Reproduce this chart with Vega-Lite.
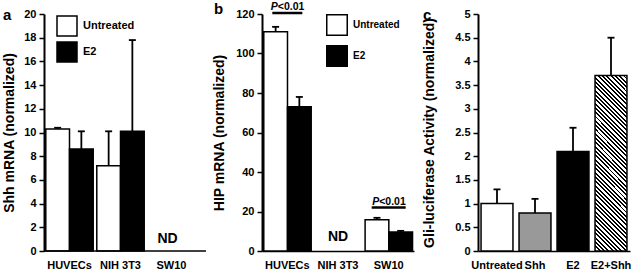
{
  "$schema": "https://vega.github.io/schema/vega-lite/v6.json",
  "background": "white",
  "padding": {"left": 2, "top": 2, "right": 0, "bottom": 0},
  "bounds": "flush",
  "spacing": 56,
  "resolve": {"scale": {"color": "independent"}, "legend": {"color": "independent"}},
  "config": {
    "view": {"stroke": null},
    "font": "Liberation Sans",
    "tick": {"opacity": 1},
    "axis": {
      "labelFont": "Liberation Sans", "labelFontWeight": "bold", "labelFontSize": 11, "labelColor": "#000",
      "titleFont": "Liberation Sans", "titleFontWeight": "bold", "titleFontSize": 14, "titleColor": "#000",
      "domainColor": "#000", "tickColor": "#000", "grid": false, "labelOverlap": false
    },
    "axisX": {"ticks": false, "tickSize": 0, "labelPadding": 8, "labelAngle": 0, "domainWidth": 1.5, "title": null},
    "axisY": {"tickSize": 5, "tickWidth": 1.5, "domainWidth": 2, "labelPadding": 3, "titleBaseline": "alphabetic", "labelOverlap": false},
    "title": {"font": "Liberation Sans", "fontSize": 15, "fontWeight": "bold", "anchor": "start", "frame": "group", "color": "#000", "offset": -15},
    "legend": {"labelFont": "Liberation Sans", "labelFontWeight": "bold", "labelColor": "#000"}
  },
  "datasets": {
    "a": [
      {"cell": "HUVECs", "treat": "Untreated", "v": 10.3, "err": 10.4},
      {"cell": "HUVECs", "treat": "E2", "v": 8.6, "err": 10.1},
      {"cell": "NIH 3T3", "treat": "Untreated", "v": 7.2, "err": 10.1},
      {"cell": "NIH 3T3", "treat": "E2", "v": 10.1, "err": 17.8}
    ],
    "b": [
      {"cell": "HUVECs", "treat": "Untreated", "v": 111, "err": 113.5},
      {"cell": "HUVECs", "treat": "E2", "v": 73, "err": 78},
      {"cell": "SW10", "treat": "Untreated", "v": 15.8, "err": 16.8},
      {"cell": "SW10", "treat": "E2", "v": 9.6, "err": 10.2}
    ],
    "c": [
      {"g": "Untreated", "v": 1.0, "err": 1.3},
      {"g": "Shh", "v": 0.8, "err": 1.1},
      {"g": "E2", "v": 2.1, "err": 2.6},
      {"g": "E2+Shh", "v": 3.7, "err": 4.5}
    ],
    "pb": [
      {"cell": "HUVECs", "y": 120.5},
      {"cell": "SW10", "y": 22}
    ]
  },
  "hconcat": [
    {
      "title": {"text": "a", "dx": -41},
      "width": 162,
      "height": 237,
      "layer": [
        {
          "data": {"name": "a"},
          "mark": {"type": "bar", "stroke": "#000", "strokeWidth": 1.5},
          "encoding": {
            "x": {"field": "cell", "type": "nominal", "scale": {"domain": ["HUVECs", "NIH 3T3", "SW10"], "range": [0, 153], "paddingInner": 0.07, "paddingOuter": 0.035}, "axis": {"domain": false, "title": null}},
            "xOffset": {"field": "treat", "type": "nominal", "scale": {"domain": ["Untreated", "E2"], "paddingInner": 0}},
            "y": {"field": "v", "type": "quantitative", "scale": {"domain": [0, 20], "nice": false}, "axis": {"tickCount": 10, "labelOverlap": false, "title": "Shh mRNA (normalized)", "titleX": -31}},
            "color": {"field": "treat", "type": "nominal", "scale": {"domain": ["Untreated", "E2"], "range": ["#ffffff", "#000000"]},
              "legend": {"orient": "none", "legendX": 12, "legendY": 1, "title": null, "symbolType": "square", "symbolSize": 400, "symbolStrokeColor": "#000", "symbolStrokeWidth": 1.5, "labelFontSize": 11, "rowPadding": 0, "labelOffset": 5, "padding": 0}}
          }
        },
        {
          "data": {"name": "a"},
          "mark": {"type": "rule", "strokeWidth": 1.8, "color": "#000"},
          "encoding": {
            "x": {"field": "cell", "type": "nominal"},
            "xOffset": {"field": "treat", "type": "nominal"},
            "y": {"field": "v", "type": "quantitative", "axis": {"tickCount": 10, "labelOverlap": false}}, "y2": {"field": "err"}}
        },
        {
          "data": {"name": "a"},
          "mark": {"type": "tick", "orient": "horizontal", "size": 7, "thickness": 1.8, "color": "#000", "opacity": 1},
          "encoding": {
            "x": {"field": "cell", "type": "nominal"},
            "xOffset": {"field": "treat", "type": "nominal"},
            "y": {"field": "err", "type": "quantitative", "axis": {"tickCount": 10, "labelOverlap": false}}}
        },
        {
          "data": {"values": [{"cell": "SW10", "label": "ND"}]},
          "mark": {"type": "text", "fontSize": 14, "fontWeight": "bold", "font": "Liberation Sans", "color": "#000", "baseline": "middle", "dy": -12, "dx": -4},
          "encoding": {"x": {"field": "cell", "type": "nominal"}, "y": {"datum": 0}, "text": {"field": "label"}}
        },
        {
          "data": {"values": [{"base": 0}]},
          "mark": {"type": "rule", "strokeWidth": 1.5, "color": "#000"},
          "encoding": {"y": {"field": "base", "type": "quantitative"}}
        }
      ]
    },
    {
      "title": {"text": "b", "dx": -48},
      "width": 160,
      "height": 237,
      "layer": [
        {
          "data": {"name": "b"},
          "mark": {"type": "bar", "stroke": "#000", "strokeWidth": 1.5},
          "encoding": {
            "x": {"field": "cell", "type": "nominal", "scale": {"domain": ["HUVECs", "NIH 3T3", "SW10"], "range": [0, 152], "paddingInner": 0.07, "paddingOuter": 0.035}, "axis": {"title": null}},
            "xOffset": {"field": "treat", "type": "nominal", "scale": {"domain": ["Untreated", "E2"], "paddingInner": 0}},
            "y": {"field": "v", "type": "quantitative", "scale": {"domain": [0, 120], "nice": false}, "axis": {"tickCount": 6, "labelOverlap": false, "title": "HIP mRNA (normalized)", "titleX": -38.5}},
            "color": {"field": "treat", "type": "nominal", "scale": {"domain": ["Untreated", "E2"], "range": ["#ffffff", "#000000"]},
              "legend": {"orient": "none", "legendX": 64, "legendY": 0, "title": null, "symbolType": "square", "symbolSize": 420, "symbolStrokeColor": "#000", "symbolStrokeWidth": 1.5, "labelFontSize": 10, "rowPadding": 3, "labelOffset": 5, "padding": 0}}
          }
        },
        {
          "data": {"name": "b"},
          "mark": {"type": "rule", "strokeWidth": 1.8, "color": "#000"},
          "encoding": {
            "x": {"field": "cell", "type": "nominal"},
            "xOffset": {"field": "treat", "type": "nominal"},
            "y": {"field": "v", "type": "quantitative", "axis": {"tickCount": 6, "labelOverlap": false}}, "y2": {"field": "err"}}
        },
        {
          "data": {"name": "b"},
          "mark": {"type": "tick", "orient": "horizontal", "size": 7, "thickness": 1.8, "color": "#000", "opacity": 1},
          "encoding": {
            "x": {"field": "cell", "type": "nominal"},
            "xOffset": {"field": "treat", "type": "nominal"},
            "y": {"field": "err", "type": "quantitative", "axis": {"tickCount": 6, "labelOverlap": false}}}
        },
        {
          "data": {"values": [{"cell": "NIH 3T3", "label": "ND"}]},
          "mark": {"type": "text", "fontSize": 14, "fontWeight": "bold", "font": "Liberation Sans", "color": "#000", "baseline": "middle", "dy": -14},
          "encoding": {"x": {"field": "cell", "type": "nominal"}, "y": {"datum": 0}, "text": {"field": "label"}}
        },
        {
          "data": {"name": "pb"},
          "transform": [{"filter": "datum.cell === 'HUVECs'"}],
          "mark": {"type": "tick", "orient": "horizontal", "size": 30, "thickness": 2.5, "color": "#000", "opacity": 1},
          "encoding": {"x": {"field": "cell", "type": "nominal"}, "y": {"field": "y", "type": "quantitative", "axis": {"tickCount": 6, "labelOverlap": false}}}
        },
        {
          "data": {"name": "pb"},
          "transform": [{"filter": "datum.cell === 'SW10'"}],
          "mark": {"type": "tick", "orient": "horizontal", "size": 34, "thickness": 2.5, "color": "#000", "opacity": 1},
          "encoding": {"x": {"field": "cell", "type": "nominal"}, "y": {"field": "y", "type": "quantitative", "axis": {"tickCount": 6, "labelOverlap": false}}}
        },
        {
          "data": {"name": "pb"},
          "mark": {"type": "text", "text": "P", "fontSize": 10.5, "fontWeight": "bold", "fontStyle": "italic", "font": "Liberation Sans", "color": "#000", "align": "right", "baseline": "bottom", "dy": -1, "dx": -9.5},
          "encoding": {"x": {"field": "cell", "type": "nominal"}, "y": {"field": "y", "type": "quantitative", "axis": {"tickCount": 6, "labelOverlap": false}}}
        },
        {
          "data": {"name": "pb"},
          "mark": {"type": "text", "text": "<0.01", "fontSize": 10.5, "fontWeight": "bold", "font": "Liberation Sans", "color": "#000", "align": "left", "baseline": "bottom", "dy": -1, "dx": -9.5},
          "encoding": {"x": {"field": "cell", "type": "nominal"}, "y": {"field": "y", "type": "quantitative", "axis": {"tickCount": 6, "labelOverlap": false}}}
        }
      ]
    },
    {
      "title": {"text": "c", "dx": -55},
      "width": 152,
      "height": 237,
      "data": {"name": "c"},
      "encoding": {
        "x": {"field": "g", "type": "nominal", "scale": {"domain": ["Untreated", "Shh", "E2", "E2+Shh"], "paddingInner": 0.16, "paddingOuter": 0.08}, "axis": {"title": null, "labelDx": -3}}
      },
      "layer": [
        {
          "transform": [{"filter": "datum.g !== 'E2+Shh'"}],
          "mark": {"type": "bar", "stroke": "#000", "strokeWidth": 1.5},
          "encoding": {
            "y": {"field": "v", "type": "quantitative", "scale": {"domain": [0, 5], "nice": false}, "axis": {"tickCount": 10, "labelOverlap": false, "format": "~g", "title": "Gli-luciferase Activity (normalized)", "titleX": -44.5}},
            "color": {"field": "g", "type": "nominal", "scale": {"domain": ["Untreated", "Shh", "E2"], "range": ["#ffffff", "#999999", "#000000"]}, "legend": null}
          }
        },
        {
          "transform": [{"filter": "datum.g === 'E2+Shh'"}],
          "mark": {"type": "bar", "stroke": "#000", "strokeWidth": 1.5,
            "fill": {"gradient": "linear", "x1": 0, "y1": 1, "x2": 0.2095, "y2": -0.1447, "stops": [
              {"offset": 0, "color": "#000"}, {"offset": 0.0094, "color": "#000"}, {"offset": 0.0094, "color": "#fff"}, {"offset": 0.0208, "color": "#fff"},
              {"offset": 0.0208, "color": "#000"}, {"offset": 0.0302, "color": "#000"}, {"offset": 0.0302, "color": "#fff"}, {"offset": 0.0417, "color": "#fff"},
              {"offset": 0.0417, "color": "#000"}, {"offset": 0.0510, "color": "#000"}, {"offset": 0.0510, "color": "#fff"}, {"offset": 0.0625, "color": "#fff"},
              {"offset": 0.0625, "color": "#000"}, {"offset": 0.0719, "color": "#000"}, {"offset": 0.0719, "color": "#fff"}, {"offset": 0.0833, "color": "#fff"},
              {"offset": 0.0833, "color": "#000"}, {"offset": 0.0927, "color": "#000"}, {"offset": 0.0927, "color": "#fff"}, {"offset": 0.1042, "color": "#fff"},
              {"offset": 0.1042, "color": "#000"}, {"offset": 0.1135, "color": "#000"}, {"offset": 0.1135, "color": "#fff"}, {"offset": 0.1250, "color": "#fff"},
              {"offset": 0.1250, "color": "#000"}, {"offset": 0.1344, "color": "#000"}, {"offset": 0.1344, "color": "#fff"}, {"offset": 0.1458, "color": "#fff"},
              {"offset": 0.1458, "color": "#000"}, {"offset": 0.1552, "color": "#000"}, {"offset": 0.1552, "color": "#fff"}, {"offset": 0.1667, "color": "#fff"},
              {"offset": 0.1667, "color": "#000"}, {"offset": 0.1760, "color": "#000"}, {"offset": 0.1760, "color": "#fff"}, {"offset": 0.1875, "color": "#fff"},
              {"offset": 0.1875, "color": "#000"}, {"offset": 0.1969, "color": "#000"}, {"offset": 0.1969, "color": "#fff"}, {"offset": 0.2083, "color": "#fff"},
              {"offset": 0.2083, "color": "#000"}, {"offset": 0.2177, "color": "#000"}, {"offset": 0.2177, "color": "#fff"}, {"offset": 0.2292, "color": "#fff"},
              {"offset": 0.2292, "color": "#000"}, {"offset": 0.2385, "color": "#000"}, {"offset": 0.2385, "color": "#fff"}, {"offset": 0.2500, "color": "#fff"},
              {"offset": 0.2500, "color": "#000"}, {"offset": 0.2594, "color": "#000"}, {"offset": 0.2594, "color": "#fff"}, {"offset": 0.2708, "color": "#fff"},
              {"offset": 0.2708, "color": "#000"}, {"offset": 0.2802, "color": "#000"}, {"offset": 0.2802, "color": "#fff"}, {"offset": 0.2917, "color": "#fff"},
              {"offset": 0.2917, "color": "#000"}, {"offset": 0.3010, "color": "#000"}, {"offset": 0.3010, "color": "#fff"}, {"offset": 0.3125, "color": "#fff"},
              {"offset": 0.3125, "color": "#000"}, {"offset": 0.3219, "color": "#000"}, {"offset": 0.3219, "color": "#fff"}, {"offset": 0.3333, "color": "#fff"},
              {"offset": 0.3333, "color": "#000"}, {"offset": 0.3427, "color": "#000"}, {"offset": 0.3427, "color": "#fff"}, {"offset": 0.3542, "color": "#fff"},
              {"offset": 0.3542, "color": "#000"}, {"offset": 0.3635, "color": "#000"}, {"offset": 0.3635, "color": "#fff"}, {"offset": 0.3750, "color": "#fff"},
              {"offset": 0.3750, "color": "#000"}, {"offset": 0.3844, "color": "#000"}, {"offset": 0.3844, "color": "#fff"}, {"offset": 0.3958, "color": "#fff"},
              {"offset": 0.3958, "color": "#000"}, {"offset": 0.4052, "color": "#000"}, {"offset": 0.4052, "color": "#fff"}, {"offset": 0.4167, "color": "#fff"},
              {"offset": 0.4167, "color": "#000"}, {"offset": 0.4260, "color": "#000"}, {"offset": 0.4260, "color": "#fff"}, {"offset": 0.4375, "color": "#fff"},
              {"offset": 0.4375, "color": "#000"}, {"offset": 0.4469, "color": "#000"}, {"offset": 0.4469, "color": "#fff"}, {"offset": 0.4583, "color": "#fff"},
              {"offset": 0.4583, "color": "#000"}, {"offset": 0.4677, "color": "#000"}, {"offset": 0.4677, "color": "#fff"}, {"offset": 0.4792, "color": "#fff"},
              {"offset": 0.4792, "color": "#000"}, {"offset": 0.4885, "color": "#000"}, {"offset": 0.4885, "color": "#fff"}, {"offset": 0.5000, "color": "#fff"},
              {"offset": 0.5000, "color": "#000"}, {"offset": 0.5094, "color": "#000"}, {"offset": 0.5094, "color": "#fff"}, {"offset": 0.5208, "color": "#fff"},
              {"offset": 0.5208, "color": "#000"}, {"offset": 0.5302, "color": "#000"}, {"offset": 0.5302, "color": "#fff"}, {"offset": 0.5417, "color": "#fff"},
              {"offset": 0.5417, "color": "#000"}, {"offset": 0.5510, "color": "#000"}, {"offset": 0.5510, "color": "#fff"}, {"offset": 0.5625, "color": "#fff"},
              {"offset": 0.5625, "color": "#000"}, {"offset": 0.5719, "color": "#000"}, {"offset": 0.5719, "color": "#fff"}, {"offset": 0.5833, "color": "#fff"},
              {"offset": 0.5833, "color": "#000"}, {"offset": 0.5927, "color": "#000"}, {"offset": 0.5927, "color": "#fff"}, {"offset": 0.6042, "color": "#fff"},
              {"offset": 0.6042, "color": "#000"}, {"offset": 0.6135, "color": "#000"}, {"offset": 0.6135, "color": "#fff"}, {"offset": 0.6250, "color": "#fff"},
              {"offset": 0.6250, "color": "#000"}, {"offset": 0.6344, "color": "#000"}, {"offset": 0.6344, "color": "#fff"}, {"offset": 0.6458, "color": "#fff"},
              {"offset": 0.6458, "color": "#000"}, {"offset": 0.6552, "color": "#000"}, {"offset": 0.6552, "color": "#fff"}, {"offset": 0.6667, "color": "#fff"},
              {"offset": 0.6667, "color": "#000"}, {"offset": 0.6760, "color": "#000"}, {"offset": 0.6760, "color": "#fff"}, {"offset": 0.6875, "color": "#fff"},
              {"offset": 0.6875, "color": "#000"}, {"offset": 0.6969, "color": "#000"}, {"offset": 0.6969, "color": "#fff"}, {"offset": 0.7083, "color": "#fff"},
              {"offset": 0.7083, "color": "#000"}, {"offset": 0.7177, "color": "#000"}, {"offset": 0.7177, "color": "#fff"}, {"offset": 0.7292, "color": "#fff"},
              {"offset": 0.7292, "color": "#000"}, {"offset": 0.7385, "color": "#000"}, {"offset": 0.7385, "color": "#fff"}, {"offset": 0.7500, "color": "#fff"},
              {"offset": 0.7500, "color": "#000"}, {"offset": 0.7594, "color": "#000"}, {"offset": 0.7594, "color": "#fff"}, {"offset": 0.7708, "color": "#fff"},
              {"offset": 0.7708, "color": "#000"}, {"offset": 0.7802, "color": "#000"}, {"offset": 0.7802, "color": "#fff"}, {"offset": 0.7917, "color": "#fff"},
              {"offset": 0.7917, "color": "#000"}, {"offset": 0.8010, "color": "#000"}, {"offset": 0.8010, "color": "#fff"}, {"offset": 0.8125, "color": "#fff"},
              {"offset": 0.8125, "color": "#000"}, {"offset": 0.8219, "color": "#000"}, {"offset": 0.8219, "color": "#fff"}, {"offset": 0.8333, "color": "#fff"},
              {"offset": 0.8333, "color": "#000"}, {"offset": 0.8427, "color": "#000"}, {"offset": 0.8427, "color": "#fff"}, {"offset": 0.8542, "color": "#fff"},
              {"offset": 0.8542, "color": "#000"}, {"offset": 0.8635, "color": "#000"}, {"offset": 0.8635, "color": "#fff"}, {"offset": 0.8750, "color": "#fff"},
              {"offset": 0.8750, "color": "#000"}, {"offset": 0.8844, "color": "#000"}, {"offset": 0.8844, "color": "#fff"}, {"offset": 0.8958, "color": "#fff"},
              {"offset": 0.8958, "color": "#000"}, {"offset": 0.9052, "color": "#000"}, {"offset": 0.9052, "color": "#fff"}, {"offset": 0.9167, "color": "#fff"},
              {"offset": 0.9167, "color": "#000"}, {"offset": 0.9260, "color": "#000"}, {"offset": 0.9260, "color": "#fff"}, {"offset": 0.9375, "color": "#fff"},
              {"offset": 0.9375, "color": "#000"}, {"offset": 0.9469, "color": "#000"}, {"offset": 0.9469, "color": "#fff"}, {"offset": 0.9583, "color": "#fff"},
              {"offset": 0.9583, "color": "#000"}, {"offset": 0.9677, "color": "#000"}, {"offset": 0.9677, "color": "#fff"}, {"offset": 0.9792, "color": "#fff"},
              {"offset": 0.9792, "color": "#000"}, {"offset": 0.9885, "color": "#000"}, {"offset": 0.9885, "color": "#fff"}, {"offset": 1, "color": "#fff"}
            ]}},
          "encoding": {
            "y": {"field": "v", "type": "quantitative", "axis": {"tickCount": 10, "labelOverlap": false, "format": "~g"}}
          }
        },
        {
          "mark": {"type": "rule", "strokeWidth": 1.8, "color": "#000"},
          "encoding": {"y": {"field": "v", "type": "quantitative", "axis": {"tickCount": 10, "labelOverlap": false, "format": "~g"}}, "y2": {"field": "err"}}
        },
        {
          "mark": {"type": "tick", "orient": "horizontal", "size": 7, "thickness": 1.8, "color": "#000", "opacity": 1},
          "encoding": {"y": {"field": "err", "type": "quantitative", "axis": {"tickCount": 10, "labelOverlap": false, "format": "~g"}}}
        }
      ]
    }
  ]
}
